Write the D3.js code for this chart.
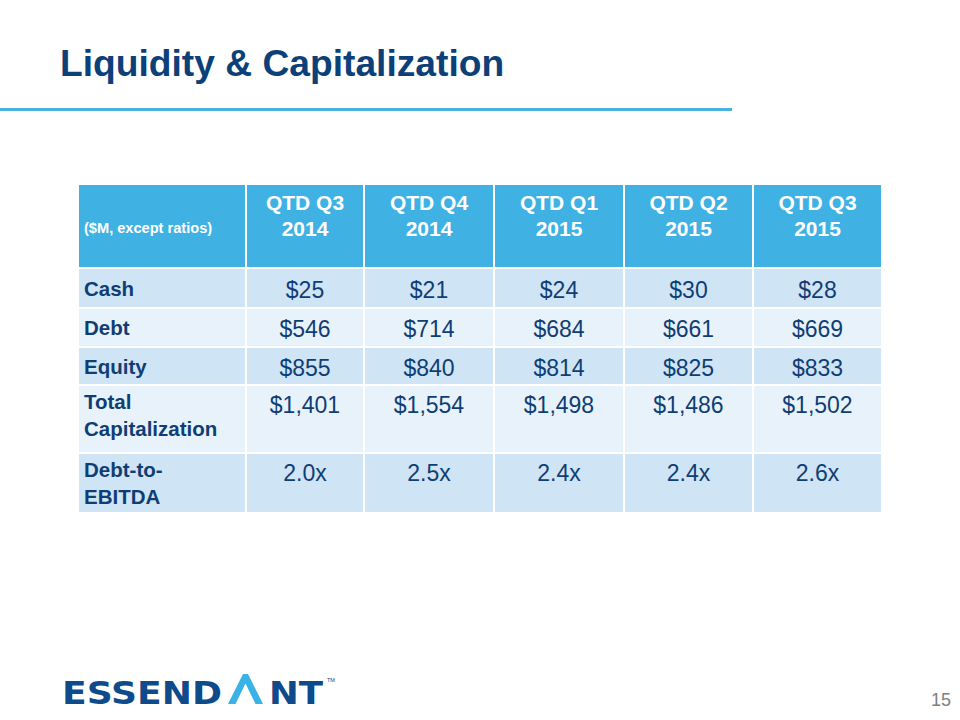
<!DOCTYPE html>
<html><head><meta charset="utf-8">
<script src="https://cdn.jsdelivr.net/npm/d3@7"></script>
<style>body{margin:0;background:#fff}svg{display:block}</style>
</head><body>
<script>
// ---- data ----
const title = "Liquidity & Capitalization";
const cornerLabel = "($M, except ratios)";
const periods = ["QTD Q3 2014", "QTD Q4 2014", "QTD Q1 2015", "QTD Q2 2015", "QTD Q3 2015"];
const rowLabels = ["Cash", "Debt", "Equity", "Total|Capitalization", "Debt-to-|EBITDA"];
const cash = [25, 21, 24, 30, 28];
const debt = [546, 714, 684, 661, 669];
const equity = [855, 840, 814, 825, 833];
const totalCapitalization = [1401, 1554, 1498, 1486, 1502];
const debtToEbitda = [2.0, 2.5, 2.4, 2.4, 2.6];
const pageNumber = "15";

// ---- layout ----
const W = 960, H = 720;
const navy = "#0d3f78", textBlue = "#0f3e75", headBg = "#3fb1e3",
      rowDark = "#cfe4f4", rowLight = "#e8f2fb", lineBlue = "#4bb3e0";
const FONT = "'Liberation Sans', Arial, sans-serif";

const svg = d3.select("body").append("svg").attr("width", W).attr("height", H);

// title
svg.append("text").attr("x", 60).attr("y", 76).text(title)
  .attr("font-family", FONT).attr("font-weight", "bold").attr("font-size", 37.2)
  .attr("fill", navy);
svg.append("rect").attr("x", 0).attr("y", 108).attr("width", 732).attr("height", 3)
  .attr("fill", lineBlue);

// table geometry
const colKeys = ["label"].concat(periods);
const colWidths = [168, 118, 130, 130, 129, 129];
const colEdges = [78, ...Array.from(d3.cumsum(colWidths), d => d + 78)];
const x = d3.scaleOrdinal().domain(colKeys).range(colEdges.slice(0, -1));
const colW = d3.scaleOrdinal().domain(colKeys).range(colWidths);

const rowKeys = ["header"].concat(rowLabels);
const rowHeights = [84, 40, 39, 38, 68, 60];
const rowEdges = [184, ...Array.from(d3.cumsum(rowHeights), d => d + 184)];
const y = d3.scaleOrdinal().domain(rowKeys).range(rowEdges.slice(0, -1));
const rowH = d3.scaleOrdinal().domain(rowKeys).range(rowHeights);

const money = d3.format("$,");
const ratio = v => d3.format(".1f")(v) + "x";
const rows = [
  {label: rowLabels[0], values: cash.map(money)},
  {label: rowLabels[1], values: debt.map(money)},
  {label: rowLabels[2], values: equity.map(money)},
  {label: rowLabels[3], values: totalCapitalization.map(money)},
  {label: rowLabels[4], values: debtToEbitda.map(ratio)}
];

const g = svg.append("g");

// header cells
colKeys.forEach(k => {
  g.append("rect").attr("x", x(k) + 1).attr("y", y("header") + 1)
    .attr("width", colW(k) - 2).attr("height", rowH("header") - 2).attr("fill", headBg);
});
g.append("text").attr("x", x("label") + 6).attr("y", y("header") + 49)
  .text(cornerLabel).attr("font-family", FONT).attr("font-weight", "bold")
  .attr("font-size", 14.6).attr("fill", "#fff");
periods.forEach(p => {
  const i = p.lastIndexOf(" ");
  const lines = [p.slice(0, i), p.slice(i + 1)];
  const t = g.append("text").attr("text-anchor", "middle")
    .attr("font-family", FONT).attr("font-weight", "bold").attr("font-size", 21)
    .attr("fill", "#fff");
  lines.forEach((ln, j) => t.append("tspan").attr("x", x(p) + colW(p) / 2)
    .attr("y", y("header") + 26 + j * 25.5).text(ln));
});

// body rows
rows.forEach((r, ri) => {
  const top = y(r.label), h = rowH(r.label);
  const fill = ri % 2 === 0 ? rowDark : rowLight;
  colKeys.forEach(k => {
    g.append("rect").attr("x", x(k) + 1).attr("y", top + 1)
      .attr("width", colW(k) - 2).attr("height", h - 2).attr("fill", fill);
  });
  const lines = r.label.split("|");
  const lt = g.append("text").attr("font-family", FONT).attr("font-weight", "bold")
    .attr("font-size", 20.5).attr("fill", textBlue);
  const base = lines.length === 1 ? top + h / 2 + 7.5 : top + 24;
  lines.forEach((ln, j) => lt.append("tspan").attr("x", x("label") + 6)
    .attr("y", base + j * 27).text(ln));
  const vBase = lines.length === 1 ? top + h / 2 + 9.5 : top + 28;
  r.values.forEach((v, ci) => {
    const k = periods[ci];
    g.append("text").attr("x", x(k) + colW(k) / 2).attr("y", vBase)
      .attr("text-anchor", "middle").attr("font-family", FONT)
      .attr("font-size", 23).attr("fill", textBlue).text(v);
  });
});

// logo
const logo = svg.append("g");
const LF = "'DejaVu Sans', 'Open Sans', sans-serif";
logo.append("text").attr("x", 62).attr("y", 704).text("ESSEND")
  .attr("font-family", LF).attr("font-weight", "bold").attr("font-size", 31.5)
  .attr("textLength", 160).attr("lengthAdjust", "spacingAndGlyphs").attr("fill", "#0f4a8a");
logo.append("path")
  .attr("d", "M228,704 L243,674 L248,674 L263,704 L255.5,704 L245.5,683.5 L235.5,704 Z")
  .attr("fill", "#3ab2e6");
logo.append("text").attr("x", 269).attr("y", 704).text("NT")
  .attr("font-family", LF).attr("font-weight", "bold").attr("font-size", 31.5)
  .attr("textLength", 54).attr("lengthAdjust", "spacingAndGlyphs").attr("fill", "#0f4a8a");
logo.append("text").attr("x", 327).attr("y", 682).text("TM")
  .attr("font-family", FONT).attr("font-size", 5.5).attr("fill", "#0f4a8a");

// page number
svg.append("text").attr("x", 951).attr("y", 706).attr("text-anchor", "end")
  .text(pageNumber).attr("font-family", FONT).attr("font-size", 18).attr("fill", "#808080");
</script>
</body></html>
